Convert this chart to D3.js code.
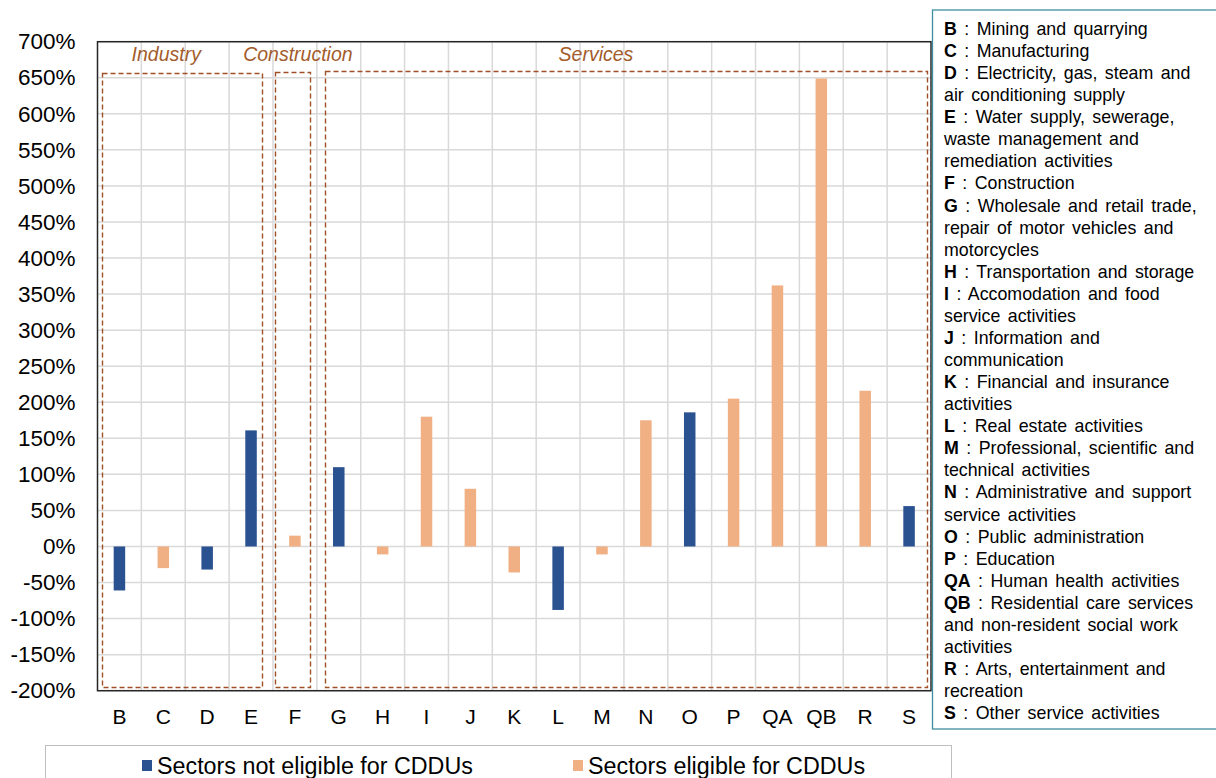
<!DOCTYPE html>
<html><head><meta charset="utf-8">
<script src="https://cdn.jsdelivr.net/npm/d3@7"></script>
<style>
html,body{margin:0;padding:0;background:#fff;}
svg{display:block;font-family:Arial,"Liberation Sans",sans-serif;}
</style></head>
<body><svg id="chart" width="1216" height="778"></svg>
<script>
// ---- data ----
const categories = ["B","C","D","E","F","G","H","I","J","K","L","M","N","O","P","QA","QB","R","S"];
const notEligible = [-61, null, -32, 161, null, 110, null, null, null, null, -88, null, null, 186, null, null, null, null, 56];
const eligible    = [null, -30, null, null, 15, null, -11, 180, 80, -36, null, -11, 175, null, 205, 362, 649, 216, null];
const yTicks = [-200,-150,-100,-50,0,50,100,150,200,250,300,350,400,450,500,550,600,650,700];
const seriesNames = ["Sectors not eligible for CDDUs", "Sectors eligible for CDDUs"];
const groupNames = ["Industry", "Construction", "Services"];
const groupFrom = ["B", "F", "G"];
const groupTo = ["E", "F", "S"];
const groupLabelAt = ["C", "F", "M"];
const legendCodes = ["B","C","D","","E","","","F","G","","","H","I","","J","","K","","L","M","","N","","O","P","QA","QB","","","R","","S"];
const legendTexts = [
 " : Mining  and quarrying"," : Manufacturing"," : Electricity, gas, steam and","air conditioning  supply",
 " : Water supply, sewerage,","waste management  and","remediation  activities"," : Construction",
 " : Wholesale and retail trade,","repair of motor vehicles and","motorcycles"," : Transportation  and storage",
 " : Accomodation  and food","service activities"," : Information  and","communication",
 " : Financial and insurance","activities"," : Real estate activities"," : Professional, scientific and",
 "technical activities"," : Administrative  and support","service activities"," : Public  administration",
 " : Education"," : Human health  activities"," : Residential  care services","and non-resident  social work",
 "activities"," : Arts, entertainment  and","recreation"," : Other service activities"];

// ---- styles ----
const BLUE = "#2A5290", ORANGE = "#F0B083", GRID = "#D9D9D9", DASH = "#9E4F26", LABEL = "#A35C2C";
const svg = d3.select("#chart");
const plot = {left: 97.5, right: 931, top: 41.7, bottom: 690.7};

const x = d3.scaleBand().domain(categories).range([plot.left, plot.right]).padding(0);
const y = d3.scaleLinear().domain([-200, 700]).range([plot.bottom, plot.top]);
const bw = x.bandwidth();
const barW = 11.5;

// horizontal grid
svg.append("g").selectAll("line").data(yTicks).join("line")
  .attr("x1", plot.left).attr("x2", plot.right)
  .attr("y1", d => y(d)).attr("y2", d => y(d))
  .attr("stroke", GRID).attr("stroke-width", 1.5);
// vertical grid
svg.append("g").selectAll("line").data(categories.slice(1)).join("line")
  .attr("x1", d => x(d)).attr("x2", d => x(d))
  .attr("y1", plot.top).attr("y2", plot.bottom)
  .attr("stroke", GRID).attr("stroke-width", 1.5);

// bars
const barData = [];
categories.forEach((c, i) => {
  if (notEligible[i] != null) barData.push({c, v: notEligible[i], col: BLUE});
  if (eligible[i] != null) barData.push({c, v: eligible[i], col: ORANGE});
});
svg.append("g").selectAll("rect").data(barData).join("rect")
  .attr("x", d => x(d.c) + bw / 2 - barW / 2)
  .attr("width", barW)
  .attr("y", d => y(Math.max(0, d.v)))
  .attr("height", d => Math.abs(y(d.v) - y(0)))
  .attr("fill", d => d.col);

// group dashed boxes
const insetL = [4.8, 2, 8.3], insetR = [11.4, 7, 4.3], topOff = [5, 5.7, 7];
const snap = v => Math.round(v) + 0.5;
groupNames.forEach((g, i) => {
  const x0 = snap(x(groupFrom[i]) + insetL[i]);
  const x1 = snap(x(groupTo[i]) + bw - insetR[i]);
  const y0 = snap(y(650) - topOff[i]);
  const y1 = snap(y(-200) - 3.5);
  svg.append("rect").attr("x", x0).attr("y", y0).attr("width", x1 - x0).attr("height", y1 - y0)
    .attr("fill", "none").attr("stroke", DASH).attr("stroke-width", 1.4).attr("stroke-dasharray", "5,3");
  const lx = x(groupLabelAt[i]) + bw / 2 + (i === 2 ? -6 : 3);
  svg.append("text").attr("x", lx).attr("y", 61).attr("text-anchor", "middle")
    .attr("font-size", 19.5).attr("font-style", "italic").attr("fill", LABEL).text(g);
});

// plot border
svg.append("rect").attr("x", plot.left).attr("y", plot.top)
  .attr("width", plot.right - plot.left).attr("height", plot.bottom - plot.top)
  .attr("fill", "none").attr("stroke", "#262626").attr("stroke-width", 1.5);

// y axis labels
const yAxis = d3.axisLeft(y).tickValues(yTicks).tickSize(0).tickPadding(22).tickFormat(d => d + "%");
const ya = svg.append("g").attr("transform", `translate(${plot.left},0)`).call(yAxis);
ya.select(".domain").remove();
ya.selectAll("text").attr("font-size", 22.5).attr("fill", "#000").attr("font-family", "Arial, 'Liberation Sans', sans-serif");

// x axis labels
const xAxis = d3.axisBottom(x).tickSize(0).tickPadding(18);
const xa = svg.append("g").attr("transform", `translate(0,${plot.bottom})`).call(xAxis);
xa.select(".domain").remove();
xa.selectAll("text").attr("font-size", 21).attr("fill", "#000").attr("font-family", "Arial, 'Liberation Sans', sans-serif");

// right legend box
svg.append("rect").attr("x", 932.5).attr("y", 10).attr("width", 290).attr("height", 719)
  .attr("fill", "#fff").attr("stroke", "#3F8E9E").attr("stroke-width", 1.3);
const lt = svg.append("g");
legendTexts.forEach((t, i) => {
  const tx = lt.append("text").attr("x", 944).attr("y", 35 + i * 22.07)
    .attr("font-size", 17.8).attr("fill", "#000").style("word-spacing", "2.5px");
  if (legendCodes[i]) tx.append("tspan").attr("font-weight", "bold").text(legendCodes[i]);
  tx.append("tspan").text(t);
});

// bottom legend
svg.append("rect").attr("x", 45.5).attr("y", 745.5).attr("width", 906).attr("height", 60)
  .attr("fill", "#fff").attr("stroke", "#BFBFBF").attr("stroke-width", 1);
const legX = [142, 573];
seriesNames.forEach((s, i) => {
  svg.append("rect").attr("x", legX[i]).attr("y", 760).attr("width", 10).attr("height", 11)
    .attr("fill", i === 0 ? BLUE : ORANGE);
  svg.append("text").attr("x", legX[i] + 15).attr("y", 774).attr("font-size", 23.3)
    .attr("fill", "#000").text(s);
});
</script></body></html>
